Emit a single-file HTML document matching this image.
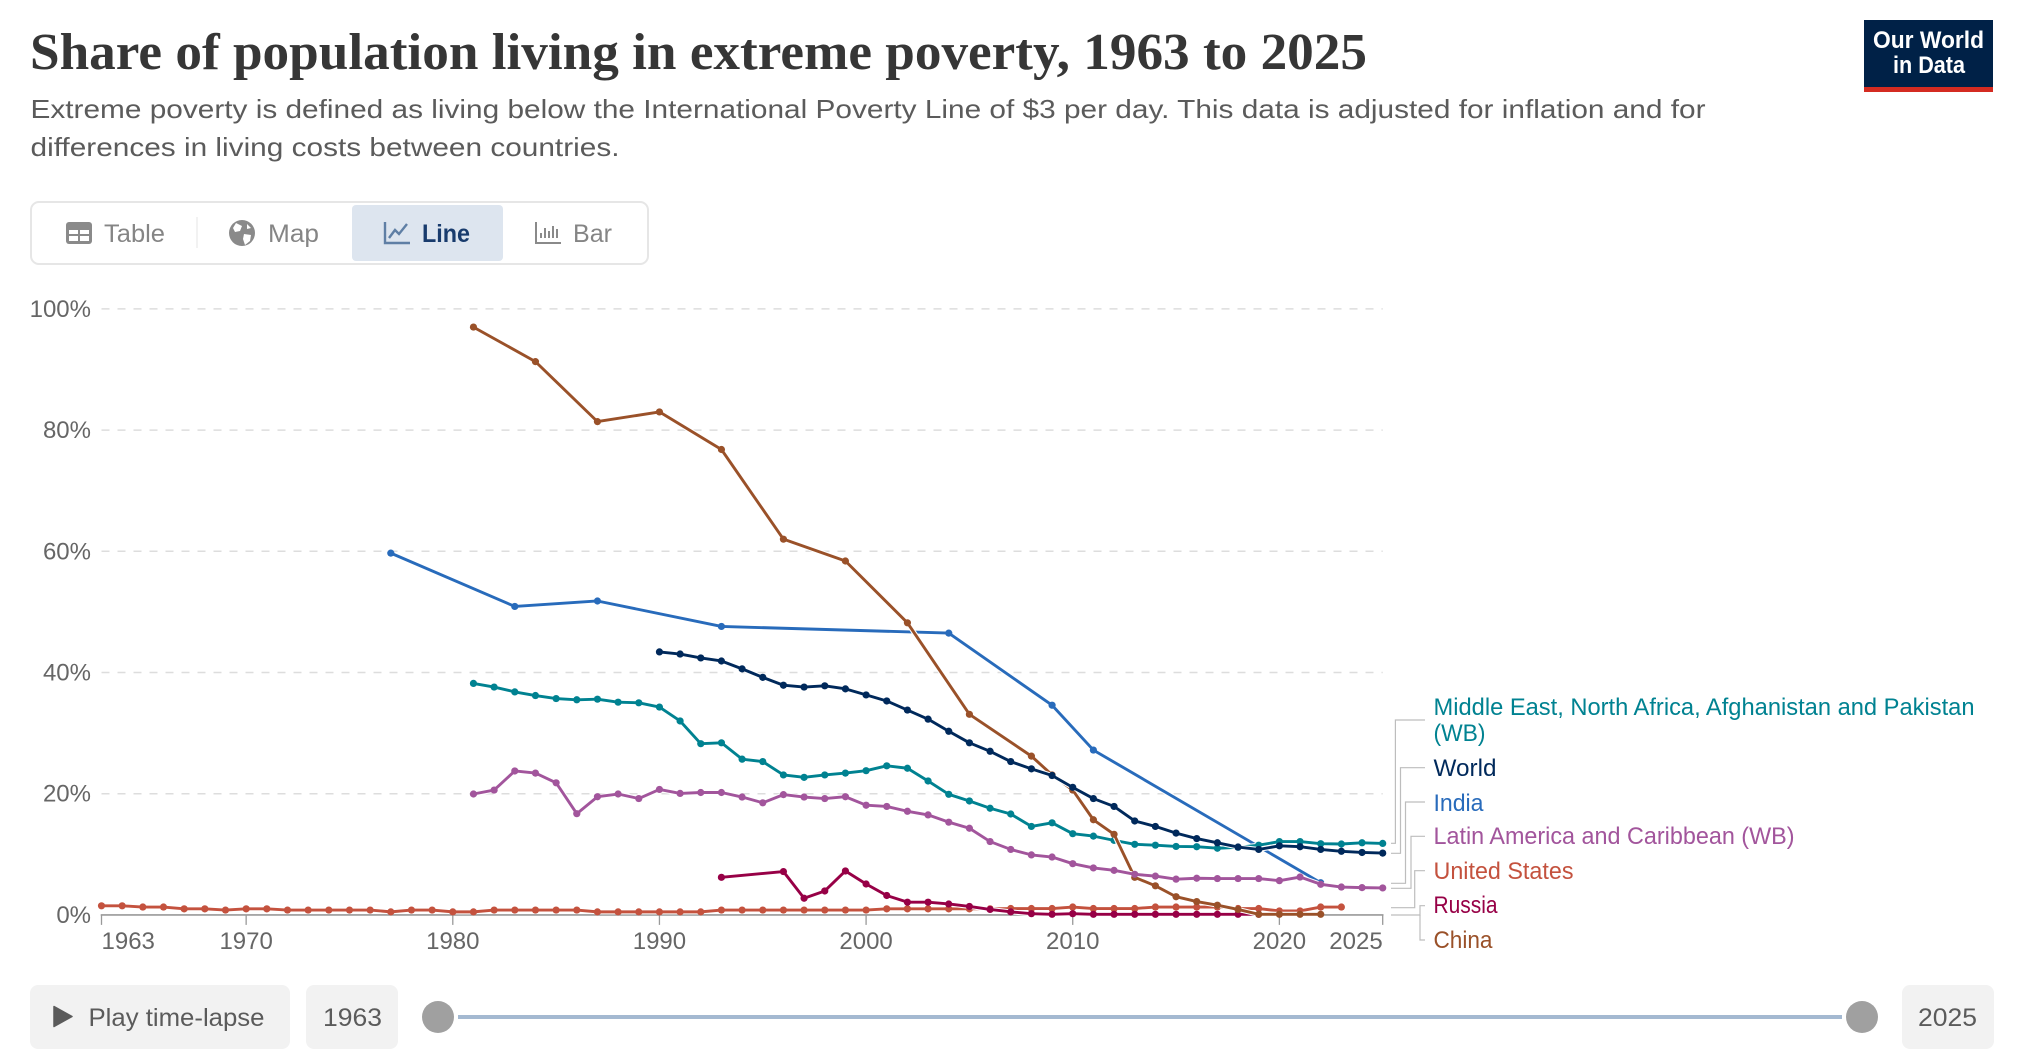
<!DOCTYPE html>
<html lang="en">
<head>
<meta charset="utf-8">
<title>Share of population living in extreme poverty, 1963 to 2025</title>
<style>
html,body{margin:0;padding:0;background:#fff;}
svg{display:block;position:absolute;left:0;top:0;}
text{font-family:"Liberation Sans",sans-serif;}
.tab{font-size:25px;fill:#858585;}
.legend{font-size:24px;}
.conn{fill:none;stroke:#bdbdbd;stroke-width:1.2;}
.btn{font-size:25px;fill:#5b5b5b;}
</style>
</head>
<body>
<svg id="chart" width="2018" height="1054" viewBox="0 0 2018 1054" xmlns="http://www.w3.org/2000/svg">
  <rect width="2018" height="1054" fill="#fff"/>

  <text x="30" y="69" font-size="52" font-weight="700" style="font-family:'Liberation Serif',serif" fill="#363636" textLength="1337" lengthAdjust="spacingAndGlyphs">Share of population living in extreme poverty, 1963 to 2025</text>
  <text x="30.5" y="118" font-size="26" fill="#5b5b5b" textLength="1675" lengthAdjust="spacingAndGlyphs">Extreme poverty is defined as living below the International Poverty Line of $3 per day. This data is adjusted for inflation and for</text>
  <text x="30.5" y="156" font-size="26" fill="#5b5b5b" textLength="589" lengthAdjust="spacingAndGlyphs">differences in living costs between countries.</text>

  <g>
    <rect x="1864" y="20" width="129" height="67" fill="#002147"/>
    <rect x="1864" y="87" width="129" height="5" fill="#d42b21"/>
    <text x="1873" y="48" font-size="24" font-weight="700" fill="#fff" textLength="111" lengthAdjust="spacingAndGlyphs">Our World</text>
    <text x="1893" y="73" font-size="24" font-weight="700" fill="#fff" textLength="72" lengthAdjust="spacingAndGlyphs">in Data</text>
  </g>

  <g>
    <rect x="31" y="202" width="617" height="62" rx="8" fill="#fff" stroke="#e6e6e6" stroke-width="2"/>
    <rect x="352" y="205" width="151" height="56" rx="4" fill="#dde5ef"/>
    <line x1="197" y1="217" x2="197" y2="248" stroke="#ececec" stroke-width="1.3"/>
    <g>
      <rect x="66" y="222" width="26" height="22" rx="3" fill="#8a8a8a"/>
      <path d="M69 230h9v4h-9zM80 230h9v4h-9zM69 236h9v5h-9zM80 236h9v5h-9z" fill="#fff"/>
      <text class="tab" x="104" y="242" textLength="61" lengthAdjust="spacingAndGlyphs">Table</text>
    </g>
    <g>
      <circle cx="242" cy="233" r="13" fill="#8a8a8a"/>
      <path d="M236 223l6 3-2 5-5 1-2-4zM244 234l7 1-1 6-5 4-2-6zM247 224l4 4-4 1z" fill="#fff"/>
      <text class="tab" x="268" y="242" textLength="51" lengthAdjust="spacingAndGlyphs">Map</text>
    </g>
    <g>
      <path d="M385 222v21h25" fill="none" stroke="#5f7fa5" stroke-width="2.4"/>
      <path d="M389 238l6-8 4 4 8-10" fill="none" stroke="#5f7fa5" stroke-width="2.4"/>
      <text x="422" y="242" font-size="25" font-weight="700" fill="#183b6d" textLength="48" lengthAdjust="spacingAndGlyphs">Line</text>
    </g>
    <g>
      <path d="M536 222v21h25M541 238v-5M545 238v-10M549 238v-7M553 238v-12M557 238v-9" fill="none" stroke="#8a8a8a" stroke-width="2"/>
      <text class="tab" x="573" y="242" textLength="39" lengthAdjust="spacingAndGlyphs">Bar</text>
    </g>
  </g>

  <g id="grid"></g>
  <g id="axis"></g>
  <g id="series"></g>

  <g>
    <path class="conn" d="M1391 843.3H1395.4V720H1425"/>
    <path class="conn" d="M1391 853.3H1400.5V767.7H1425"/>
    <path class="conn" d="M1391 883.3H1405.5V802H1425"/>
    <path class="conn" d="M1391 888.3H1411V836.3H1425"/>
    <path class="conn" d="M1391 907.7H1414.7V870.7H1425"/>
    <path class="conn" d="M1391 915H1420V905.7H1425"/>
    <path class="conn" d="M1420 915V940H1425"/>
  </g>

  <g>
    <text class="legend" x="1433.5" y="715" fill="#008291" textLength="541" lengthAdjust="spacingAndGlyphs">Middle East, North Africa, Afghanistan and Pakistan</text>
    <text class="legend" x="1433.5" y="741" fill="#008291" textLength="52" lengthAdjust="spacingAndGlyphs">(WB)</text>
    <text class="legend" x="1433.5" y="776" fill="#00295b" textLength="63" lengthAdjust="spacingAndGlyphs">World</text>
    <text class="legend" x="1433.5" y="811" fill="#286bbb" textLength="50" lengthAdjust="spacingAndGlyphs">India</text>
    <text class="legend" x="1433.5" y="844" fill="#a2559c" textLength="361" lengthAdjust="spacingAndGlyphs">Latin America and Caribbean (WB)</text>
    <text class="legend" x="1433.5" y="879" fill="#c4523e" textLength="140" lengthAdjust="spacingAndGlyphs">United States</text>
    <text class="legend" x="1433.5" y="913" fill="#970046" textLength="64" lengthAdjust="spacingAndGlyphs">Russia</text>
    <text class="legend" x="1433.5" y="948" fill="#9a5129" textLength="59" lengthAdjust="spacingAndGlyphs">China</text>
  </g>

  <g>
    <g>
      <rect x="30" y="985" width="260" height="64" rx="8" fill="#f2f2f2"/>
      <path d="M54 1006.5L72 1016.5L54 1026.5Z" fill="#5b5b5b" stroke="#5b5b5b" stroke-width="1.5" stroke-linejoin="round"/>
      <text class="btn" x="88.5" y="1026" textLength="176" lengthAdjust="spacingAndGlyphs">Play time-lapse</text>
    </g>
    <g>
      <rect x="306" y="985" width="92" height="64" rx="8" fill="#f2f2f2"/>
      <text class="btn" x="323" y="1026" textLength="59" lengthAdjust="spacingAndGlyphs">1963</text>
    </g>
    <rect x="458" y="1015" width="1384" height="4" fill="#a4b9d1"/>
    <circle cx="438" cy="1017" r="16" fill="#a0a0a0"/>
    <circle cx="1862" cy="1017" r="16" fill="#a0a0a0"/>
    <g>
      <rect x="1902" y="985" width="92" height="64" rx="8" fill="#f2f2f2"/>
      <text class="btn" x="1918" y="1026" textLength="59" lengthAdjust="spacingAndGlyphs">2025</text>
    </g>
  </g>
</svg>

<script>
var xTickYears = [1963, 1970, 1980, 1990, 2000, 2010, 2020, 2025];
var yTickValues = [0, 20, 40, 60, 80, 100];

var indiaYears = [1977, 1983, 1987, 1993, 2004, 2009, 2011, 2022];
var indiaValues = [59.7, 50.9, 51.8, 47.6, 46.5, 34.6, 27.2, 5.3];

var menaYears = [1981,1982,1983,1984,1985,1986,1987,1988,1989,1990,1991,1992,1993,1994,1995,1996,1997,1998,1999,2000,2001,2002,2003,2004,2005,2006,2007,2008,2009,2010,2011,2012,2013,2014,2015,2016,2017,2018,2019,2020,2021,2022,2023,2024,2025];
var menaValues = [38.2,37.6,36.8,36.2,35.7,35.5,35.6,35.1,35.0,34.3,32.0,28.25,28.4,25.7,25.3,23.1,22.7,23.1,23.4,23.8,24.6,24.2,22.1,19.9,18.8,17.6,16.65,14.6,15.2,13.4,13.0,12.3,11.65,11.5,11.3,11.25,11.0,11.15,11.5,12.1,12.1,11.75,11.7,11.9,11.8];

var usYears = [1963,1964,1965,1966,1967,1968,1969,1970,1971,1972,1973,1974,1975,1976,1977,1978,1979,1980,1981,1982,1983,1984,1985,1986,1987,1988,1989,1990,1991,1992,1993,1994,1995,1996,1997,1998,1999,2000,2001,2002,2003,2004,2005,2006,2007,2008,2009,2010,2011,2012,2013,2014,2015,2016,2017,2018,2019,2020,2021,2022,2023];
var usValues = [1.5,1.5,1.3,1.3,1.0,1.0,0.8,1.0,1.0,0.8,0.8,0.8,0.8,0.8,0.5,0.8,0.8,0.5,0.5,0.8,0.8,0.8,0.8,0.8,0.5,0.5,0.5,0.5,0.5,0.5,0.8,0.8,0.8,0.8,0.8,0.8,0.8,0.8,1.0,1.0,1.0,1.0,1.0,1.0,1.05,1.05,1.05,1.3,1.05,1.05,1.05,1.3,1.3,1.3,1.3,1.05,1.05,0.65,0.65,1.3,1.3];

var russiaYears = [1993,1996,1997,1998,1999,2000,2001,2002,2003,2004,2005,2006,2007,2008,2009,2010,2011,2012,2013,2014,2015,2016,2017,2018,2019];
var russiaValues = [6.2,7.15,2.75,3.95,7.25,5.1,3.2,2.1,2.1,1.8,1.4,0.9,0.5,0.2,0.1,0.2,0.1,0.1,0.1,0.1,0.1,0.1,0.1,0.1,0.1];

var chinaYears = [1981,1984,1987,1990,1993,1996,1999,2002,2005,2008,2009,2010,2011,2012,2013,2014,2015,2016,2017,2018,2019,2020,2021,2022];
var chinaValues = [97.0,91.3,81.4,83.0,76.8,62.0,58.4,48.2,33.1,26.2,23.1,20.6,15.7,13.3,6.2,4.8,3.0,2.2,1.6,0.9,0.1,0.1,0.1,0.1];

var latamYears = [1981,1982,1983,1984,1985,1986,1987,1988,1989,1990,1991,1992,1993,1994,1995,1996,1997,1998,1999,2000,2001,2002,2003,2004,2005,2006,2007,2008,2009,2010,2011,2012,2013,2014,2015,2016,2017,2018,2019,2020,2021,2022,2023,2024,2025];
var latamValues = [19.95,20.6,23.75,23.4,21.8,16.7,19.5,19.95,19.2,20.7,20.05,20.2,20.2,19.45,18.5,19.85,19.45,19.2,19.5,18.1,17.9,17.1,16.5,15.3,14.3,12.1,10.8,9.9,9.55,8.45,7.75,7.35,6.7,6.4,5.9,6.05,6.0,6.0,6.0,5.65,6.25,5.05,4.6,4.5,4.45];

var worldYears = [1990,1991,1992,1993,1994,1995,1996,1997,1998,1999,2000,2001,2002,2003,2004,2005,2006,2007,2008,2009,2010,2011,2012,2013,2014,2015,2016,2017,2018,2019,2020,2021,2022,2023,2024,2025];
var worldValues = [43.4,43.05,42.4,41.9,40.6,39.2,37.9,37.6,37.8,37.3,36.3,35.3,33.8,32.3,30.3,28.4,27.0,25.3,24.1,23.0,21.05,19.2,17.9,15.5,14.6,13.5,12.6,11.9,11.2,10.8,11.4,11.25,10.8,10.5,10.3,10.2];

function xScale(year) { return 101.5 + (year - 1963) * (1382.7 - 101.5) / (2025 - 1963); }
function yScale(value) { return 914.9 - value * 6.06; }

var NS = 'http://www.w3.org/2000/svg';
function make(tag, parent) {
  var el = document.createElementNS(NS, tag);
  parent.appendChild(el);
  return el;
}

var gridGroup = document.getElementById('grid');
yTickValues.forEach(function (v) {
  if (v > 0) {
    var line = make('line', gridGroup);
    
    
    line.setAttribute('x1', xScale(1963));
    line.setAttribute('x2', xScale(2025));
    line.setAttribute('y1', yScale(v));
    line.setAttribute('y2', yScale(v));
    line.setAttribute('stroke', '#dddddd');
    line.setAttribute('stroke-width', '1.5');
    line.setAttribute('stroke-dasharray', '8 8');
  }
  var label = make('text', gridGroup);
  
  
  label.setAttribute('x', 91);
  label.setAttribute('y', yScale(v) + 8);
  label.setAttribute('text-anchor', 'end');
  label.setAttribute('font-size', '24');
  label.setAttribute('fill', '#666666');
  label.textContent = v + '%';
});

var axisGroup = document.getElementById('axis');
var axisLine = make('line', axisGroup);


axisLine.setAttribute('x1', xScale(1963) - 0.8);
axisLine.setAttribute('x2', xScale(2025) + 0.8);
axisLine.setAttribute('y1', yScale(0));
axisLine.setAttribute('y2', yScale(0));
axisLine.setAttribute('stroke', '#999999');
axisLine.setAttribute('stroke-width', '1.6');
xTickYears.forEach(function (yr, i) {
  var tick = make('line', axisGroup);
  
  
  tick.setAttribute('x1', xScale(yr));
  tick.setAttribute('x2', xScale(yr));
  tick.setAttribute('y1', yScale(0));
  tick.setAttribute('y2', yScale(0) + 10);
  tick.setAttribute('stroke', '#999999');
  tick.setAttribute('stroke-width', '1.3');
  var label = make('text', axisGroup);
  
  
  var anchor = 'middle';
  if (i === 0) { anchor = 'start'; }
  if (i === xTickYears.length - 1) { anchor = 'end'; }
  label.setAttribute('text-anchor', anchor);
  label.setAttribute('x', xScale(yr));
  label.setAttribute('y', 949);
  label.setAttribute('font-size', '24');
  label.setAttribute('fill', '#666666');
  label.textContent = yr;
});

var seriesGroup = document.getElementById('series');
function drawSeries(name, color, years, values) {
  var g = make('g', seriesGroup);
  
  
  var pts = years.map(function (yr, i) {
    return xScale(yr).toFixed(2) + ',' + yScale(values[i]).toFixed(2);
  }).join(' ');
  var halo = make('polyline', g);
  
  
  halo.setAttribute('points', pts);
  halo.setAttribute('fill', 'none');
  halo.setAttribute('stroke', '#ffffff');
  halo.setAttribute('stroke-width', '5');
  halo.setAttribute('stroke-linejoin', 'round');
  var line = make('polyline', g);
  
  
  line.setAttribute('points', pts);
  line.setAttribute('fill', 'none');
  line.setAttribute('stroke', color);
  line.setAttribute('stroke-width', '2.9');
  line.setAttribute('stroke-linejoin', 'round');
  years.forEach(function (yr, i) {
    var dot = make('circle', g);
    
    
    dot.setAttribute('cx', xScale(yr));
    dot.setAttribute('cy', yScale(values[i]));
    dot.setAttribute('r', '3.6');
    dot.setAttribute('fill', color);
  });
}

drawSeries('india', '#286bbb', indiaYears, indiaValues);
drawSeries('mena', '#008291', menaYears, menaValues);
drawSeries('united-states', '#c4523e', usYears, usValues);
drawSeries('russia', '#970046', russiaYears, russiaValues);
drawSeries('china', '#9a5129', chinaYears, chinaValues);
drawSeries('latam', '#a2559c', latamYears, latamValues);
drawSeries('world', '#00295b', worldYears, worldValues);
</script>
</body>
</html>
